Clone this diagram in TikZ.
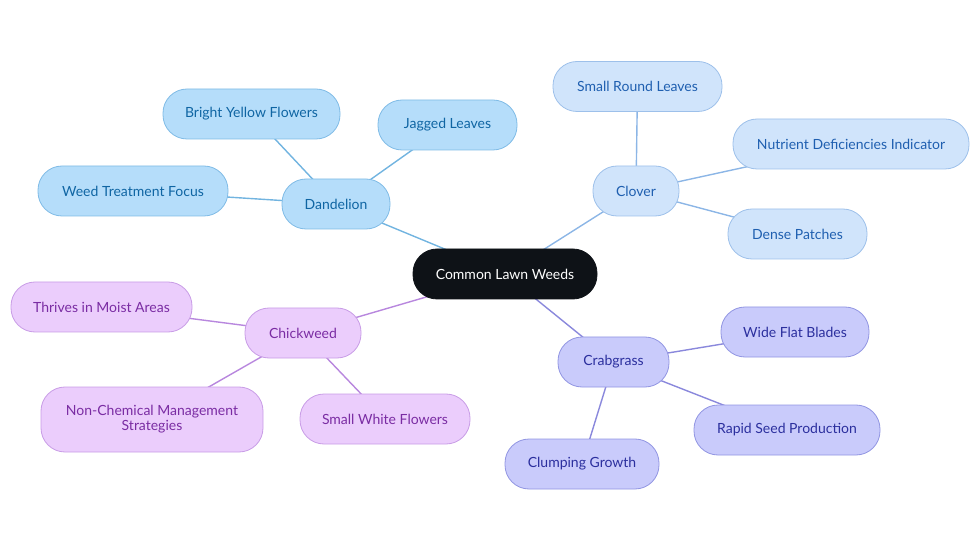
\documentclass[tikz,border=0pt]{standalone}
\usepackage{fontspec}
\setmainfont{Lato}
\usetikzlibrary{backgrounds}
\definecolor{dfill}{HTML}{B5DDFA}
\definecolor{ddraw}{HTML}{7FBBE6}
\definecolor{dtext}{HTML}{0F65A3}
\definecolor{dline}{HTML}{72B4E0}
\definecolor{cfill}{HTML}{D0E4FB}
\definecolor{cdraw}{HTML}{9DC0EA}
\definecolor{ctext}{HTML}{1F5FB0}
\definecolor{cline}{HTML}{8CB6E6}
\definecolor{kfill}{HTML}{EBCDFC}
\definecolor{kdraw}{HTML}{C89CE6}
\definecolor{ktext}{HTML}{7A2CA3}
\definecolor{kline}{HTML}{B887DE}
\definecolor{gfill}{HTML}{C9CBFB}
\definecolor{gdraw}{HTML}{9195E2}
\definecolor{gtext}{HTML}{2B2F9E}
\definecolor{gline}{HTML}{8A88DC}
\definecolor{rootfill}{HTML}{0E1217}
\tikzset{
  pill/.style={rectangle, rounded corners=24pt, line width=0.8pt, font=\fontsize{14}{15}\selectfont, inner sep=0pt, align=center},
  dnode/.style={pill, fill=dfill, draw=ddraw, text=dtext},
  cnode/.style={pill, fill=cfill, draw=cdraw, text=ctext},
  knode/.style={pill, fill=kfill, draw=kdraw, text=ktext},
  gnode/.style={pill, fill=gfill, draw=gdraw, text=gtext},
  rootnode/.style={pill, fill=rootfill, draw=rootfill, text=white},
  link/.style={line width=1.4pt}
}
\begin{document}
\begin{tikzpicture}[x=1pt,y=-1pt]
\useasboundingbox (0,0) rectangle (980,553);
\node[rootnode, minimum width=184pt, minimum height=50pt] (root) at (505,274) {Common Lawn Weeds};
% Dandelion
\node[dnode, minimum width=108pt, minimum height=50pt] (dan) at (336,204) {Dandelion};
\node[dnode, minimum width=177pt, minimum height=50pt] (byf) at (251.5,114) {Bright Yellow Flowers};
\node[dnode, minimum width=139pt, minimum height=50pt] (jag) at (447.5,125) {Jagged Leaves};
\node[dnode, minimum width=190pt, minimum height=50pt] (wtf) at (133,191) {Weed Treatment Focus};
% Clover
\node[cnode, minimum width=86pt, minimum height=50pt] (clo) at (636,191) {Clover};
\node[cnode, minimum width=169pt, minimum height=50pt] (srl) at (637.5,86.5) {Small Round Leaves};
\node[cnode, minimum width=236pt, minimum height=50pt] (ndi) at (851,144) {Nutrient Deficiencies Indicator};
\node[cnode, minimum width=139pt, minimum height=50pt] (dp) at (797.5,234) {Dense Patches};
% Chickweed
\node[knode, minimum width=116pt, minimum height=50pt] (chi) at (303,333) {Chickweed};
\node[knode, minimum width=181pt, minimum height=50pt] (tma) at (101.5,307) {Thrives in Moist Areas};
\node[knode, minimum width=222pt, minimum height=65pt] (ncm) at (152,419.5) {Non-Chemical Management\\Strategies};
\node[knode, minimum width=170pt, minimum height=50pt] (swf) at (385,419) {Small White Flowers};
% Crabgrass
\node[gnode, minimum width=111pt, minimum height=50pt] (cra) at (613.5,362) {Crabgrass};
\node[gnode, minimum width=148pt, minimum height=50pt] (wfb) at (795,332) {Wide Flat Blades};
\node[gnode, minimum width=186pt, minimum height=50pt] (rsp) at (787,430) {Rapid Seed Production};
\node[gnode, minimum width=154pt, minimum height=50pt] (clg) at (582,464) {Clumping Growth};
\begin{scope}[on background layer]
\draw[link, dline] (root.center) -- (dan.center);
\draw[link, dline] (dan.center) -- (byf.center);
\draw[link, dline] (dan.center) -- (jag.center);
\draw[link, dline] (dan.center) -- (wtf.center);
\draw[link, cline] (root.center) -- (clo.center);
\draw[link, cline] (clo.center) -- (srl.center);
\draw[link, cline] (clo.center) -- (ndi.center);
\draw[link, cline] (clo.center) -- (dp.center);
\draw[link, kline] (root.center) -- (chi.center);
\draw[link, kline] (chi.center) -- (tma.center);
\draw[link, kline] (chi.center) -- (ncm.center);
\draw[link, kline] (chi.center) -- (swf.center);
\draw[link, gline] (root.center) -- (cra.center);
\draw[link, gline] (cra.center) -- (wfb.center);
\draw[link, gline] (cra.center) -- (rsp.center);
\draw[link, gline] (cra.center) -- (clg.center);
\end{scope}
\end{tikzpicture}
\end{document}
